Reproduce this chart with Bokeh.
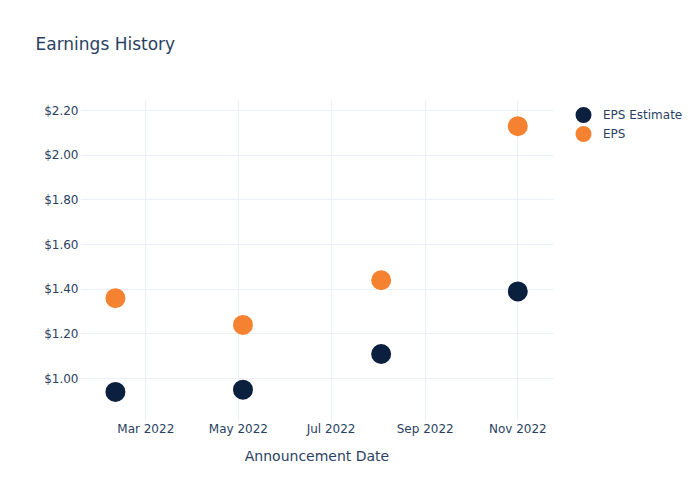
import pandas as pd
from bokeh.plotting import figure
from bokeh.models import (FixedTicker, DatetimeTickFormatter, NumeralTickFormatter,
                          Legend, LegendItem, Range1d, ColumnDataSource, Title)
from bokeh.embed import file_html
from bokeh.resources import INLINE

dates = ["2022-02-09", "2022-05-04", "2022-08-03", "2022-11-01"]
eps_estimate = [0.94, 0.95, 1.11, 1.39]
eps_actual = [1.36, 1.24, 1.44, 2.13]
x_tick_dates = ["2022-03-01", "2022-05-01", "2022-07-01", "2022-09-01", "2022-11-01"]
y_ticks = [1.0, 1.2, 1.4, 1.6, 1.8, 2.0, 2.2]

FONT = "DejaVu Sans"
TXT = "#2a3f5f"
GRID = "#ebf0f8"


def ms(s):
    return pd.Timestamp(s).value / 1e6


dt = pd.to_datetime(dates)
src = ColumnDataSource(dict(x=dt, est=eps_estimate, eps=eps_actual))

p = figure(frame_width=473, frame_height=320, output_backend="svg", toolbar_location=None,
           x_axis_type="datetime",
           x_range=Range1d(ms("2022-01-17"), ms("2022-11-24 12:00")),
           y_range=Range1d(0.812, 2.245),
           min_border_left=80, min_border_right=0, min_border_top=100, min_border_bottom=80)
p.outline_line_color = None
p.background_fill_color = "white"

# size + line_width gives a 20px dot in the plot and a 16px dot in the legend
r1 = p.scatter("x", "est", source=src, size=11.6, fill_color="#0b1f3f",
               line_color="#0b1f3f", line_width=8.4)
r2 = p.scatter("x", "eps", source=src, size=11.6, fill_color="#f58231",
               line_color="#f58231", line_width=8.4)

p.xaxis.ticker = FixedTicker(ticks=[ms(d) for d in x_tick_dates])
p.xaxis.formatter = DatetimeTickFormatter(months="%b %Y", days="%b %Y", hours="%b %Y")
p.yaxis.ticker = FixedTicker(ticks=y_ticks)
p.yaxis.formatter = NumeralTickFormatter(format="$0.00")

for ax in (p.xaxis[0], p.yaxis[0]):
    ax.axis_line_color = None
    ax.major_tick_line_color = None
    ax.minor_tick_line_color = None
    ax.major_tick_out = 0
    ax.major_tick_in = 0
    ax.minor_tick_out = 0
    ax.minor_tick_in = 0
    ax.major_label_text_font = FONT
    ax.major_label_text_font_size = "12px"
    ax.major_label_text_color = TXT
p.xaxis.major_label_standoff = 1
p.yaxis.major_label_standoff = 2
p.xaxis.axis_label = "Announcement Date"
p.xaxis.axis_label_text_font = FONT
p.xaxis.axis_label_text_font_size = "14px"
p.xaxis.axis_label_text_font_style = "normal"
p.xaxis.axis_label_text_color = TXT
p.xaxis.axis_label_standoff = 9

p.xgrid.grid_line_color = GRID
p.ygrid.grid_line_color = GRID

# spacer between the frame and the title
p.add_layout(Title(text=" ", standoff=44, text_font_size="1px", text_color="white"), "above")

p.title.text = "Earnings History"
p.title.text_font = FONT
p.title.text_font_size = "17px"
p.title.text_font_style = "normal"
p.title.text_color = TXT
p.title.align = "left"
p.title.offset = -45
p.title.standoff = 0

legend = Legend(items=[LegendItem(label="EPS Estimate", renderers=[r1]),
                       LegendItem(label="EPS", renderers=[r2])],
                location=(10, 277), orientation="vertical",
                border_line_color=None, background_fill_alpha=0,
                label_text_font=FONT, label_text_font_size="12px", label_text_color=TXT,
                glyph_width=40, glyph_height=19, label_height=19, spacing=0,
                padding=0, margin=0, label_standoff=0)
p.add_layout(legend, "right")

open("out.html", "w").write(file_html(p, INLINE))
